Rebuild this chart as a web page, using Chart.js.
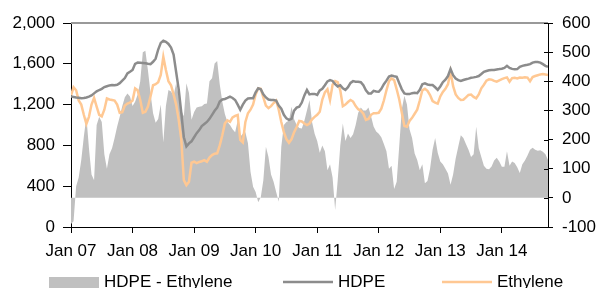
<!DOCTYPE html>
<html>
<head>
<meta charset="utf-8">
<script src="https://cdn.jsdelivr.net/npm/chart.js@4.4.1/dist/chart.umd.min.js"></script>
<style>
  html, body { margin: 0; padding: 0; background: #fff; overflow: hidden; }
  #wrap { width: 603px; height: 298px; }
</style>
</head>
<body>
<div id="wrap"><canvas id="chart" width="603" height="298"></canvas></div>
<script>
// semi-monthly readings, Jan 2007 to Sep 2014
const hdpe = [
  1280, 1275, 1270, 1268, 1262, 1265, 1270, 1278, 1290, 1310, 1330, 1343, 1355, 1372, 1380, 1388,
  1392, 1390, 1395, 1410, 1435, 1460, 1505, 1522, 1540, 1600, 1612, 1610, 1608, 1605, 1600, 1597,
  1620, 1650, 1740, 1805, 1826, 1815, 1795, 1760, 1690, 1520, 1350, 1120, 880, 790, 820, 840,
  880, 920, 950, 990, 1010, 1030, 1060, 1100, 1140, 1170, 1230, 1250, 1255, 1265, 1277, 1265,
  1245, 1200, 1150, 1200, 1240, 1260, 1262, 1262, 1320, 1359, 1350, 1300, 1270, 1250, 1245, 1245,
  1240, 1190, 1160, 1100, 1065, 1050, 1060, 1140, 1170, 1180, 1220, 1290, 1343, 1300, 1305, 1305,
  1295, 1340, 1355, 1390, 1428, 1441, 1432, 1400, 1378, 1390, 1360, 1345, 1370, 1412, 1430, 1425,
  1425, 1420, 1390, 1340, 1310, 1310, 1335, 1328, 1326, 1355, 1400, 1435, 1475, 1485, 1478, 1472,
  1410, 1350, 1310, 1303, 1303, 1312, 1316, 1312, 1345, 1400, 1408, 1397, 1392, 1392, 1370, 1345,
  1378, 1420, 1445, 1480, 1550, 1488, 1455, 1440, 1432, 1441, 1448, 1455, 1463, 1467, 1472, 1480,
  1500, 1522, 1530, 1537, 1539, 1540, 1545, 1548, 1552, 1560, 1580, 1560, 1550, 1547, 1548, 1570,
  1580, 1585, 1590, 1597, 1612, 1618, 1618, 1612, 1597, 1580, 1570
];
const ethylene = [
  1290, 1370, 1340, 1240, 1200, 1100, 1010, 1080, 1200, 1265, 1180, 1100, 1085, 1150, 1260, 1250,
  1245, 1240, 1200, 1120, 1125, 1190, 1210, 1220, 1240, 1359, 1340, 1245, 1120, 1130, 1180, 1280,
  1390, 1400, 1420, 1490, 1669, 1540, 1430, 1390, 1300, 1200, 1050, 860, 460, 411, 444, 630,
  640, 627, 638, 645, 655, 640, 680, 705, 718, 722, 800, 900, 1016, 1045, 1032, 1075,
  1090, 1098, 853, 830, 1030, 1115, 1150, 1200, 1300, 1359, 1355, 1270, 1190, 1165, 1185, 1215,
  1240, 1150, 1030, 930, 860, 825, 860, 930, 980, 1040, 1035, 1015, 1000, 1015, 1055, 1080,
  1100, 1130, 1250, 1320, 1350, 1245, 1395, 1430, 1420, 1340, 1185, 1200, 1225, 1245, 1230, 1185,
  1155, 1140, 1110, 1050, 1060, 1100, 1115, 1115, 1120, 1160, 1240, 1340, 1430, 1457, 1440, 1350,
  1250, 1120, 990, 983, 1040, 1070, 1110, 1150, 1240, 1340, 1355, 1335, 1294, 1235, 1220, 1210,
  1280, 1325, 1355, 1400, 1522, 1380, 1300, 1265, 1245, 1248, 1270, 1295, 1298, 1275, 1262, 1300,
  1360, 1395, 1435, 1448, 1445, 1432, 1425, 1438, 1450, 1460, 1467, 1425, 1460, 1462, 1457, 1466,
  1464, 1468, 1465, 1430, 1470, 1480, 1488, 1496, 1499, 1495, 1490
];
const spread = [
  -90, -80, 40, 70, 130, 210, 278, 170, 80, 60, 250, 278, 260, 150, 100, 150,
  170, 205, 245, 278, 315, 345, 358, 348, 315, 330, 355, 400, 500, 505, 438, 360,
  290, 258, 271, 320, 190, 315, 370, 365, 350, 393, 350, 300, 280, 393, 360, 268,
  295, 310, 313, 314, 322, 324, 400, 410, 461, 470, 390, 330, 288, 260, 250, 235,
  225, 265, 210, 220, 225, 187, 90, 38, 20, -15, 2, 60, 175, 140, 80, 55,
  20, -13, 175, 250, 260, 265, 313, 270, 250, 240, 238, 265, 300, 336, 260, 220,
  195, 155, 180, 160, 95, 115, 70, -42, 60, 180, 255, 195, 221, 205, 218, 250,
  292, 310, 300, 300, 310, 280, 245, 228, 220, 208, 185, 160, 100, 110, 30, 55,
  180, 305, 350, 320, 235, 205, 152, 130, 95, 115, 50, 58, 100, 165, 205, 155,
  125, 115, 100, 84, 45, 80, 135, 175, 215, 205, 185, 165, 140, 150, 244, 170,
  140, 110, 100, 98, 108, 128, 138, 125, 107, 107, 160, 110, 125, 120, 105, 85,
  115, 128, 145, 165, 172, 165, 162, 163, 158, 150, 130
];
const yearLabels = ["Jan 07", "Jan 08", "Jan 09", "Jan 10", "Jan 11", "Jan 12", "Jan 13", "Jan 14"];
const periods = hdpe.map((v, i) => i);

const fontFamily = "'Liberation Sans', Arial, sans-serif";
const font = { family: fontFamily, size: 17 };

// gray line along the top of the plot, small inner ticks on the right axis
const frame = {
  id: "frame",
  afterDraw(chart) {
    const ctx = chart.ctx;
    const a = chart.chartArea;
    ctx.save();
    ctx.strokeStyle = "#999999";
    ctx.lineWidth = 2;
    ctx.beginPath();
    ctx.moveTo(a.left, a.top);
    ctx.lineTo(a.right, a.top);
    ctx.stroke();
    const y1 = chart.scales.y1;
    ctx.strokeStyle = "#000";
    ctx.lineWidth = 1;
    y1.ticks.forEach(t => {
      const py = Math.round(y1.getPixelForValue(t.value)) + 0.5;
      ctx.beginPath();
      ctx.moveTo(a.right - 4, py);
      ctx.lineTo(a.right, py);
      ctx.stroke();
    });
    ctx.restore();
  }
};

// legend laid out like the original, one row under the axis
const legendRow = {
  id: "legendRow",
  afterDraw(chart) {
    const ctx = chart.ctx;
    const starts = [49, 283, 442];
    const y = 282;
    ctx.save();
    ctx.font = "17px " + fontFamily;
    ctx.textBaseline = "middle";
    chart.data.datasets.forEach((ds, i) => {
      const x = starts[i];
      if (ds.fill) {
        ctx.fillStyle = ds.backgroundColor;
        ctx.fillRect(x, y - 5, 50, 12);
      } else {
        ctx.strokeStyle = ds.borderColor;
        ctx.lineWidth = ds.borderWidth;
        ctx.beginPath();
        ctx.moveTo(x, y);
        ctx.lineTo(x + 50, y);
        ctx.stroke();
      }
      ctx.fillStyle = "#000";
      ctx.fillText(ds.label, x + 55, y);
    });
    ctx.restore();
  }
};

new Chart(document.getElementById("chart"), {
  type: "line",
  data: {
    labels: periods,
    datasets: [
      {
        label: "HDPE - Ethylene",
        data: spread,
        yAxisID: "y1",
        borderWidth: 0,
        backgroundColor: "#c0c0c0",
        fill: "origin",
        pointRadius: 0,
        tension: 0
      },
      {
        label: "HDPE",
        data: hdpe,
        yAxisID: "y",
        borderColor: "#8c8c8c",
        borderWidth: 2.5,
        fill: false,
        pointRadius: 0,
        tension: 0
      },
      {
        label: "Ethylene",
        data: ethylene,
        yAxisID: "y",
        borderColor: "#ffc893",
        borderWidth: 2.5,
        fill: false,
        pointRadius: 0,
        tension: 0
      }
    ]
  },
  options: {
    responsive: false,
    animation: false,
    layout: { padding: { top: 23, left: 0, right: 0, bottom: 29 } },
    plugins: {
      filler: { drawTime: "beforeDatasetsDraw" },
      tooltip: { enabled: false },
      legend: { display: false }
    },
    scales: {
      x: {
        type: "linear",
        min: 0,
        max: periods.length - 1,
        afterBuildTicks: s => { s.ticks = yearLabels.map((l, i) => ({ value: i * 24 })); },
        afterFit: s => { s.height = 42; },
        ticks: {
          color: "#000",
          font: font,
          padding: 8,
          maxRotation: 0,
          autoSkip: false,
          callback: (v, i) => yearLabels[i]
        },
        grid: { drawOnChartArea: false, tickLength: 6, color: "#000" },
        border: { color: "#000", width: 1 }
      },
      y: {
        position: "left",
        min: 0,
        max: 2000,
        afterFit: s => { s.width = 71; },
        ticks: {
          stepSize: 400,
          autoSkip: false,
          color: "#000",
          font: font,
          padding: 8,
          callback: v => v.toLocaleString("en-US")
        },
        grid: { drawOnChartArea: false, tickLength: 8, color: "#000" },
        border: { color: "#000", width: 1 }
      },
      y1: {
        position: "right",
        min: -100,
        max: 600,
        afterFit: s => { s.width = 55; },
        ticks: {
          stepSize: 100,
          autoSkip: false,
          color: "#000",
          font: font,
          padding: 9
        },
        grid: { drawOnChartArea: false, tickLength: 5, color: "#000" },
        border: { color: "#000", width: 1 }
      }
    }
  },
  plugins: [frame, legendRow]
});
</script>
</body>
</html>
